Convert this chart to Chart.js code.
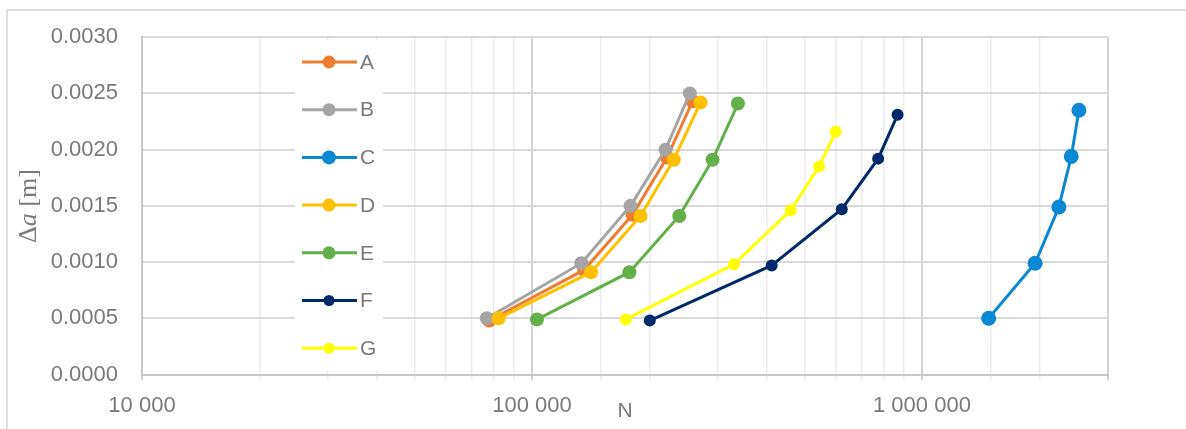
<!DOCTYPE html>
<html>
<head>
<meta charset="utf-8">
<script src="https://cdn.jsdelivr.net/npm/chart.js@4.4.0/dist/chart.umd.min.js"></script>
<style>
  body { margin: 0; background: #fff; }
</style>
</head>
<body>
<canvas id="crackChart" width="1186" height="429"></canvas>
<script>
// series names and point values
var seriesNames = ["A", "B", "C", "D", "E", "F", "G"];
var seriesColors = ["#ED7D31", "#A5A5A5", "#0A88D4", "#FFC000", "#62B04A", "#00296B", "#FFFF00"];
var markerSizes = [7, 7, 7.5, 7, 7, 6, 6];

var nA = [77700, 136000, 181000, 222000, 258000];
var daA = [0.00048, 0.00093, 0.00142, 0.00193, 0.00243];
var nB = [76600, 133900, 178900, 220000, 254000];
var daB = [0.00050, 0.00099, 0.00150, 0.00200, 0.00250];
var nC = [1483000, 1951000, 2245000, 2415000, 2527000];
var daC = [0.00050, 0.00099, 0.00149, 0.00194, 0.00235];
var nD = [82100, 141800, 189800, 231000, 270600];
var daD = [0.00050, 0.00091, 0.00141, 0.00191, 0.00242];
var nE = [103000, 177800, 238600, 290500, 337400];
var daE = [0.00049, 0.00091, 0.00141, 0.00191, 0.00241];
var nF = [200500, 411800, 622900, 772200, 866000];
var daF = [0.00048, 0.00097, 0.00147, 0.00192, 0.00231];
var nG = [174000, 329600, 460700, 544700, 601300];
var daG = [0.00049, 0.00098, 0.00146, 0.00185, 0.00216];

var xMin = 10000, xMax = 3000000;
var yMin = 0, yMax = 0.003, yStep = 0.0005;

var allN = [nA, nB, nC, nD, nE, nF, nG];
var allDa = [daA, daB, daC, daD, daE, daF, daG];

var textGrey = "#7a7a7a";
var gridGrey = "#d9d9d9";

function isPow10(v) {
    var l = Math.log10(v);
    return Math.abs(l - Math.round(l)) < 1e-9;
}

function spaced(v) {
    return String(Math.round(v)).replace(/\B(?=(\d{3})+(?!\d))/g, " ");
}

var datasets = [];
for (var i = 0; i < seriesNames.length; i++) {
    var pts = [];
    for (var j = 0; j < allN[i].length; j++) {
        pts.push({ x: allN[i][j], y: allDa[i][j] });
    }
    datasets.push({
        label: seriesNames[i],
        data: pts,
        borderColor: seriesColors[i],
        backgroundColor: seriesColors[i],
        pointBackgroundColor: seriesColors[i],
        pointBorderColor: seriesColors[i],
        pointRadius: markerSizes[i],
        pointBorderWidth: 0,
        borderWidth: 3,
        tension: 0,
        // excel puts later series on top
        order: seriesNames.length - i
    });
}

// outer frame of the chart
var framePlugin = {
    id: "frame",
    beforeDraw: function (chart) {
        var ctx = chart.ctx;
        ctx.save();
        ctx.strokeStyle = "#dedede";
        ctx.lineWidth = 2;
        ctx.strokeRect(7, 10, 1200, 440);
        ctx.restore();
    }
};

// y title has an italic "a", so draw it by hand
var yTitlePlugin = {
    id: "yTitle",
    afterDraw: function (chart) {
        var ctx = chart.ctx;
        var parts = [
            { t: "\u0394", f: "26px 'Liberation Serif'" },
            { t: "a", f: "italic 26px 'Liberation Serif'" },
            { t: " [m]", f: "26px 'Liberation Serif'" }
        ];
        var total = 0;
        parts.forEach(function (p) { ctx.font = p.f; p.w = ctx.measureText(p.t).width; total += p.w; });
        ctx.save();
        ctx.translate(29, 206);
        ctx.rotate(-Math.PI / 2);
        ctx.fillStyle = textGrey;
        ctx.textBaseline = "middle";
        var x = -total / 2;
        parts.forEach(function (p) {
            ctx.font = p.f;
            ctx.fillText(p.t, x, 0);
            x += p.w;
        });
        ctx.restore();
    }
};

// legend box sitting inside the plot
var insideLegend = {
    id: "insideLegend",
    afterDatasetsDraw: function (chart) {
        var ctx = chart.ctx;
        ctx.save();
        ctx.fillStyle = "#ffffff";
        ctx.fillRect(295, 40, 88, 331);
        ctx.font = "21px 'Liberation Sans'";
        ctx.textBaseline = "middle";
        ctx.textAlign = "left";
        chart.data.datasets.forEach(function (ds, k) {
            var y = 62 + k * 47.7;
            ctx.strokeStyle = ds.borderColor;
            ctx.lineWidth = 3;
            ctx.beginPath();
            ctx.moveTo(302, y);
            ctx.lineTo(357, y);
            ctx.stroke();
            ctx.fillStyle = ds.borderColor;
            ctx.beginPath();
            ctx.arc(329, y, ds.pointRadius - 0.5, 0, Math.PI * 2);
            ctx.fill();
            ctx.fillStyle = textGrey;
            ctx.fillText(ds.label, 360, y + 1);
        });
        ctx.restore();
    }
};

var chart = new Chart(document.getElementById("crackChart"), {
    type: "line",
    data: { datasets: datasets },
    plugins: [framePlugin, insideLegend, yTitlePlugin],
    options: {
        responsive: false,
        devicePixelRatio: 1,
        animation: false,
        layout: { padding: { top: 37, right: 78, left: 0, bottom: 0 } },
        plugins: {
            legend: { display: false },
            tooltip: { enabled: false }
        },
        scales: {
            x: {
                type: "logarithmic",
                min: xMin,
                max: xMax,
                border: { display: true, color: "#c8c8c8", width: 2 },
                grid: {
                    color: function (c) {
                        if (!c.tick) return gridGrey;
                        return isPow10(c.tick.value) || c.tick.value === xMax ? "#d3d3d3" : "#ececec";
                    },
                    lineWidth: function (c) {
                        if (!c.tick) return 1;
                        return isPow10(c.tick.value) || c.tick.value === xMax ? 2 : 1.5;
                    },
                    tickLength: 6
                },
                ticks: {
                    autoSkip: false,
                    maxRotation: 0,
                    padding: 12,
                    color: textGrey,
                    font: { family: "Liberation Sans", size: 22 },
                    callback: function (v) {
                        return isPow10(v) ? spaced(v) : "";
                    }
                },
                title: {
                    display: true,
                    text: "N",
                    color: textGrey,
                    font: { family: "Liberation Sans", size: 21 },
                    padding: { top: 0, bottom: 5 }
                },
                afterFit: function (scale) { scale.height = 54.5; }
            },
            y: {
                min: yMin,
                max: yMax,
                border: { display: true, color: "#c8c8c8", width: 2 },
                grid: { color: gridGrey, lineWidth: 2, drawTicks: false },
                ticks: {
                    stepSize: yStep,
                    padding: 24,
                    color: textGrey,
                    font: { family: "Liberation Sans", size: 22 },
                    callback: function (v) { return v.toFixed(4); }
                },
                afterFit: function (scale) { scale.width = 142; }
            }
        }
    }
});
</script>
</body>
</html>
